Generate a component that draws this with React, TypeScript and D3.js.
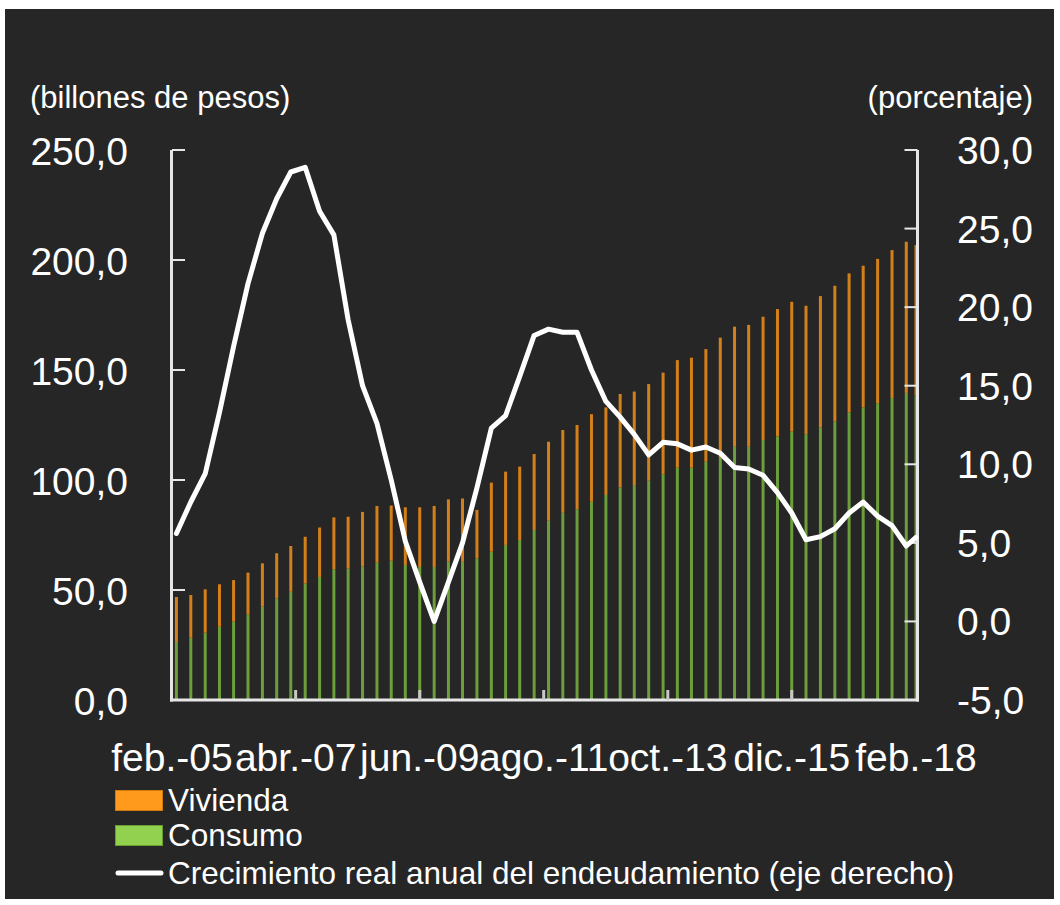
import React from "react";
import * as d3 from "d3";

// ---- data (quarterly, billones de pesos / porcentaje) ----
const fechas = [
  "2005-03","2005-06","2005-09","2005-12",
  "2006-03","2006-06","2006-09","2006-12",
  "2007-03","2007-06","2007-09","2007-12",
  "2008-03","2008-06","2008-09","2008-12",
  "2009-03","2009-06","2009-09","2009-12",
  "2010-03","2010-06","2010-09","2010-12",
  "2011-03","2011-06","2011-09","2011-12",
  "2012-03","2012-06","2012-09","2012-12",
  "2013-03","2013-06","2013-09","2013-12",
  "2014-03","2014-06","2014-09","2014-12",
  "2015-03","2015-06","2015-09","2015-12",
  "2016-03","2016-06","2016-09","2016-12",
  "2017-03","2017-06","2017-09","2017-12",
  "2018-02",
];

const consumo = [
  26.4, 28.3, 30.6, 33.3, 35.6, 38.9, 42.4, 46.2, 49.2, 52.9, 55.9, 59.4,
  59.8, 60.8, 62.4, 63.3, 61.4, 60.5, 60.5, 62.9, 62.8, 64.4, 67.4, 70.5,
  72.7, 77.3, 81.5, 85.1, 86.7, 90.1, 93.2, 96.6, 97.7, 99.7, 102.6, 105.6,
  105.6, 108.3, 110.1, 115.1, 115.1, 118.2, 119.8, 122.0, 120.8, 123.9, 126.7, 130.8,
  133.0, 134.9, 137.2, 139.6, 138.4,
];

const vivienda = [
  20.4, 19.4, 19.7, 19.3, 18.9, 19.0, 19.7, 20.5, 20.8, 21.3, 22.5, 23.6,
  23.5, 24.7, 25.8, 25.1, 26.2, 27.1, 27.7, 28.3, 28.8, 22.0, 31.4, 33.3,
  33.4, 34.5, 35.9, 37.6, 38.3, 39.8, 39.8, 42.5, 42.5, 43.9, 46.2, 48.9,
  50.0, 51.2, 54.6, 54.6, 55.4, 56.0, 57.9, 59.0, 58.4, 59.7, 61.6, 63.1,
  64.4, 65.6, 67.3, 68.7, 68.4,
];

const crecimiento = [
  5.6, 7.6, 9.4, 13.3, 17.5, 21.5, 24.7, 26.9, 28.6, 28.9, 26.1, 24.6,
  19.2, 15.0, 12.6, 9.0, 5.1, 2.5, 0.0, 2.5, 5.0, 8.5, 12.3, 13.1,
  15.6, 18.2, 18.6, 18.4, 18.4, 16.0, 14.0, 13.0, 11.9, 10.6, 11.4, 11.3,
  10.9, 11.1, 10.7, 9.8, 9.7, 9.3, 8.2, 6.9, 5.2, 5.4, 5.9, 6.9,
  7.6, 6.7, 6.1, 4.8, 5.35,
];

const xTickFechas = ["2005-02","2007-04","2009-06","2011-08","2013-10","2015-12","2018-02"];
const xTickLabels = ["feb.-05","abr.-07","jun.-09","ago.-11","oct.-13","dic.-15","feb.-18"];
const yLeftTicks = [0, 50, 100, 150, 200, 250];
const yRightTicks = [-5, 0, 5, 10, 15, 20, 25, 30];
const legendLabels = ["Vivienda", "Consumo", "Crecimiento real anual del endeudamiento (eje derecho)"];

const parseMonth = (s: string) => {
  const [y, m] = s.split("-").map(Number);
  return new Date(Date.UTC(y, m - 1, 1));
};

const fmt = (v: number) => d3.format(".1f")(v).replace(".", ",").replace("\u2212", "-");

export default function App() {
  const W = 1060, H = 905;
  const left = 172, right = 916, top = 150, bottom = 700;
  const font = "'Liberation Sans', Arial, sans-serif";

  const x = d3.scaleUtc()
    .domain([parseMonth("2005-02"), parseMonth("2018-02")])
    .range([left, right]);
  const yL = d3.scaleLinear().domain([0, 250]).range([bottom, top]);
  const yR = d3.scaleLinear().domain([-5, 30]).range([bottom, top]);

  const rows = fechas.map((f, i) => ({ date: parseMonth(f), consumo: consumo[i], vivienda: vivienda[i], crec: crecimiento[i] }));
  const stack = d3.stack<any>().keys(["consumo", "vivienda"])(rows);
  const barColors: Record<string, string> = { consumo: "#6c9e3b", vivienda: "#d4801a" };
  const barW = 3;

  const line = d3.line<any>()
    .x((d) => x(d.date))
    .y((d) => yR(d.crec));

  const axisColor = "#e6e6e6";
  const textColor = "#ffffff";
  const axisRight = 917.5;

  return (
    <div style={{ position: "absolute", left: 0, top: 0 }}>
      <svg width={W} height={H} style={{ display: "block" }}>
        <rect x={0} y={0} width={W} height={H} fill="#ffffff" />
        <rect x={5} y={9} width={1049} height={890} fill="#262626" />

        {/* bars */}
        {stack.map((s) => (
          <g key={s.key}>
            {s.map((d, i) => (
              <rect
                key={i}
                x={x(rows[i].date) - barW / 2}
                y={yL(d[1])}
                width={barW}
                height={yL(d[0]) - yL(d[1])}
                fill={barColors[s.key]}
              />
            ))}
          </g>
        ))}

        {/* axes */}
        <line x1={left - 0.5} x2={left - 0.5} y1={top} y2={bottom + 1.5} stroke={axisColor} strokeWidth={3} />
        <line x1={axisRight} x2={axisRight} y1={top} y2={bottom + 1.5} stroke={axisColor} strokeWidth={3} />
        <line x1={left - 2} x2={axisRight + 1.5} y1={bottom} y2={bottom} stroke={axisColor} strokeWidth={3} />
        {yLeftTicks.map((t) => (
          <g key={"l" + t}>
            {t > 0 && <line x1={left} x2={left + 13} y1={yL(t)} y2={yL(t)} stroke={axisColor} strokeWidth={2} />}
            <text x={128} y={yL(t) + 15} textAnchor="end" fill={textColor} fontFamily={font} fontSize={39}>{fmt(t)}</text>
          </g>
        ))}
        {yRightTicks.map((t) => (
          <g key={"r" + t}>
            {t > -5 && <line x1={axisRight - 13} x2={axisRight} y1={yR(t)} y2={yR(t)} stroke={axisColor} strokeWidth={2} />}
            <text x={957} y={yR(t) + 14} textAnchor="start" fill={textColor} fontFamily={font} fontSize={39}>{fmt(t)}</text>
          </g>
        ))}
        {xTickFechas.map((f, i) => {
          const xx = x(parseMonth(f));
          return (
            <g key={f}>
              {i > 0 && i < xTickFechas.length - 1 && (
                <line x1={xx} x2={xx} y1={bottom - 10} y2={bottom} stroke="#c8c8c8" strokeWidth={3} />
              )}
              <text x={xx} y={771} textAnchor="middle" fill={textColor} fontFamily={font} fontSize={39}>{xTickLabels[i]}</text>
            </g>
          );
        })}

        {/* line */}
        <path d={line(rows) || ""} fill="none" stroke="#ffffff" strokeWidth={5} strokeLinejoin="round" strokeLinecap="round" />

        {/* axis titles */}
        <text x={30} y={108} fill={textColor} fontFamily={font} fontSize={31}>(billones de pesos)</text>
        <text x={1033} y={108} textAnchor="end" fill={textColor} fontFamily={font} fontSize={31}>(porcentaje)</text>

        {/* legend */}
        <rect x={115.5} y={790.5} width={47} height={20} fill="#ff9a1c" stroke="#d07a10" strokeWidth={1} />
        <text x={168} y={811} fill={textColor} fontFamily={font} fontSize={31.5}>{legendLabels[0]}</text>
        <rect x={115.5} y={825.5} width={47} height={20} fill="#92d050" stroke="#6a9e30" strokeWidth={1} />
        <text x={168} y={846} fill={textColor} fontFamily={font} fontSize={31.5}>{legendLabels[1]}</text>
        <line x1={118} x2={161} y1={873} y2={873} stroke="#ffffff" strokeWidth={5} strokeLinecap="round" />
        <text x={168} y={884} fill={textColor} fontFamily={font} fontSize={31.5}>{legendLabels[2]}</text>
      </svg>
    </div>
  );
}
